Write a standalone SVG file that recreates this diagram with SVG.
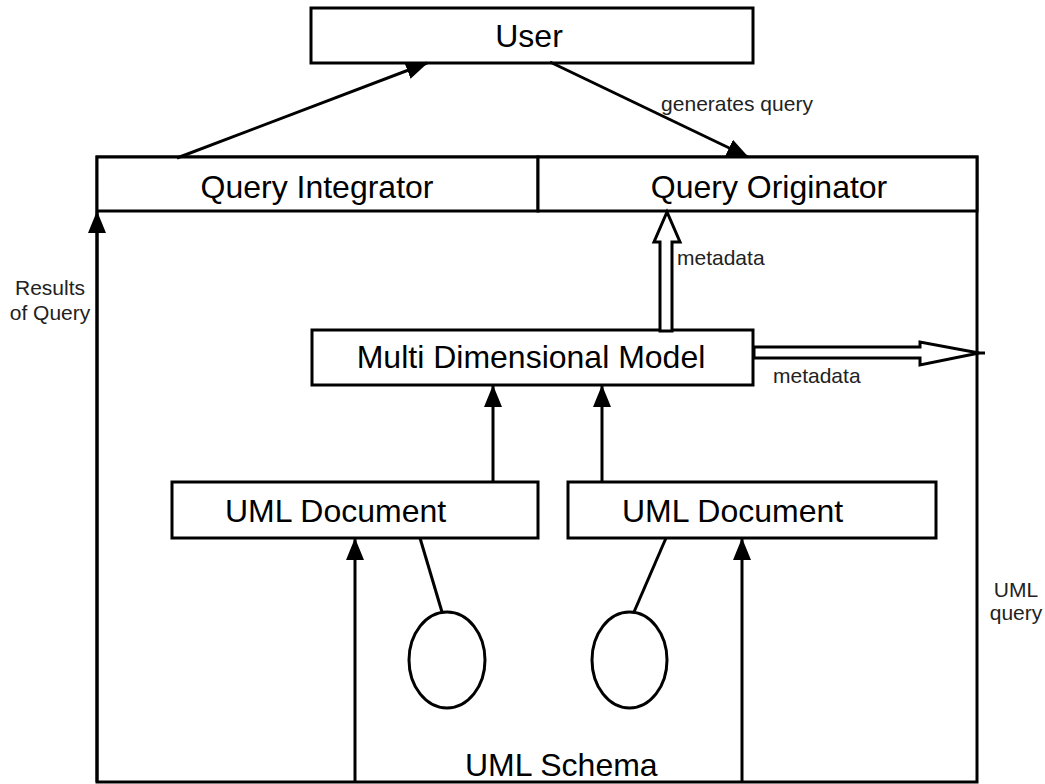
<svg xmlns="http://www.w3.org/2000/svg" width="1045" height="784" viewBox="0 0 1045 784">
<style>
.box{fill:#fff;stroke:#000;stroke-width:3}
.ln{fill:none;stroke:#000;stroke-width:3}
.big{font-family:"Liberation Sans",Arial,sans-serif;font-size:32px;fill:#000}
.sm{font-family:"Liberation Sans",Arial,sans-serif;font-size:21px;fill:#222}
.hol{fill:#fff;stroke:#000;stroke-width:3;stroke-linejoin:miter}
</style>
<defs>
<marker id="ah" markerUnits="userSpaceOnUse" markerWidth="22" markerHeight="20" viewBox="0 0 22 20" refX="21" refY="10" orient="auto">
<path d="M0,1 L22,10 L0,19 Z" fill="#000"/>
</marker>
</defs>
<rect width="1045" height="784" fill="#fff"/>
<g id="outer">
<rect class="box" x="97" y="157" width="880" height="625"/>
</g>
<g id="user">
<rect class="box" x="311" y="8" width="442" height="55"/>
<text class="big" x="529" y="47" text-anchor="middle">User</text>
</g>
<g id="query-integrator">
<rect class="box" x="97" y="157" width="441" height="54"/>
<text class="big" x="317" y="198" text-anchor="middle">Query Integrator</text>
</g>
<g id="query-originator">
<rect class="box" x="538" y="157" width="439" height="54"/>
<text class="big" x="769" y="198" text-anchor="middle">Query Originator</text>
</g>
<g id="mdm">
<rect class="box" x="312" y="330" width="441" height="55"/>
<text class="big" x="531" y="368" text-anchor="middle">Multi Dimensional Model</text>
</g>
<g id="uml-doc-1">
<rect class="box" x="172" y="482" width="366" height="56"/>
<text class="big" x="225" y="522">UML Document</text>
</g>
<g id="uml-doc-2">
<rect class="box" x="568" y="482" width="368" height="56"/>
<text class="big" x="622" y="522">UML Document</text>
</g>
<g id="interface-1">
<ellipse class="ln" cx="447" cy="660" rx="38" ry="48" stroke-width="2.5"/>
</g>
<g id="interface-2">
<ellipse class="ln" cx="629.5" cy="660" rx="37.5" ry="48" stroke-width="2.5"/>
</g>
<g id="uml-schema">
<text class="big" x="465" y="776">UML Schema</text>
</g>
<g id="connectors">
<line class="ln" x1="177" y1="158" x2="427" y2="63" marker-end="url(#ah)"/>
<line class="ln" x1="550" y1="62" x2="748" y2="157" marker-end="url(#ah)"/>
<line class="ln" x1="97" y1="782" x2="97" y2="212" marker-end="url(#ah)"/>
<line class="ln" x1="493" y1="482" x2="493" y2="386" marker-end="url(#ah)"/>
<line class="ln" x1="602" y1="482" x2="602" y2="386" marker-end="url(#ah)"/>
<line class="ln" x1="355" y1="782" x2="355" y2="539" marker-end="url(#ah)"/>
<line class="ln" x1="742" y1="782" x2="742" y2="539" marker-end="url(#ah)"/>
<line class="ln" x1="420" y1="538" x2="442" y2="612"/>
<line class="ln" x1="666" y1="538" x2="634" y2="612"/>
<polygon class="hol" points="660,331 660,242 654,242 667,212 680,242 672,242 672,331"/>
<polygon class="hol" points="754,347 920,347 920,342 979,353 920,365 920,358 754,358"/>
<line class="ln" x1="977" y1="353" x2="985" y2="353" stroke-width="2"/>
</g>
<g id="labels">
<text class="sm" x="737" y="111" text-anchor="middle">generates query</text>
<text class="sm" x="50" y="295" text-anchor="middle">Results</text>
<text class="sm" x="50" y="320" text-anchor="middle">of Query</text>
<text class="sm" x="677" y="265">metadata</text>
<text class="sm" x="773" y="383">metadata</text>
<text class="sm" x="1016" y="597" text-anchor="middle">UML</text>
<text class="sm" x="1016" y="620" text-anchor="middle">query</text>
</g>
</svg>
